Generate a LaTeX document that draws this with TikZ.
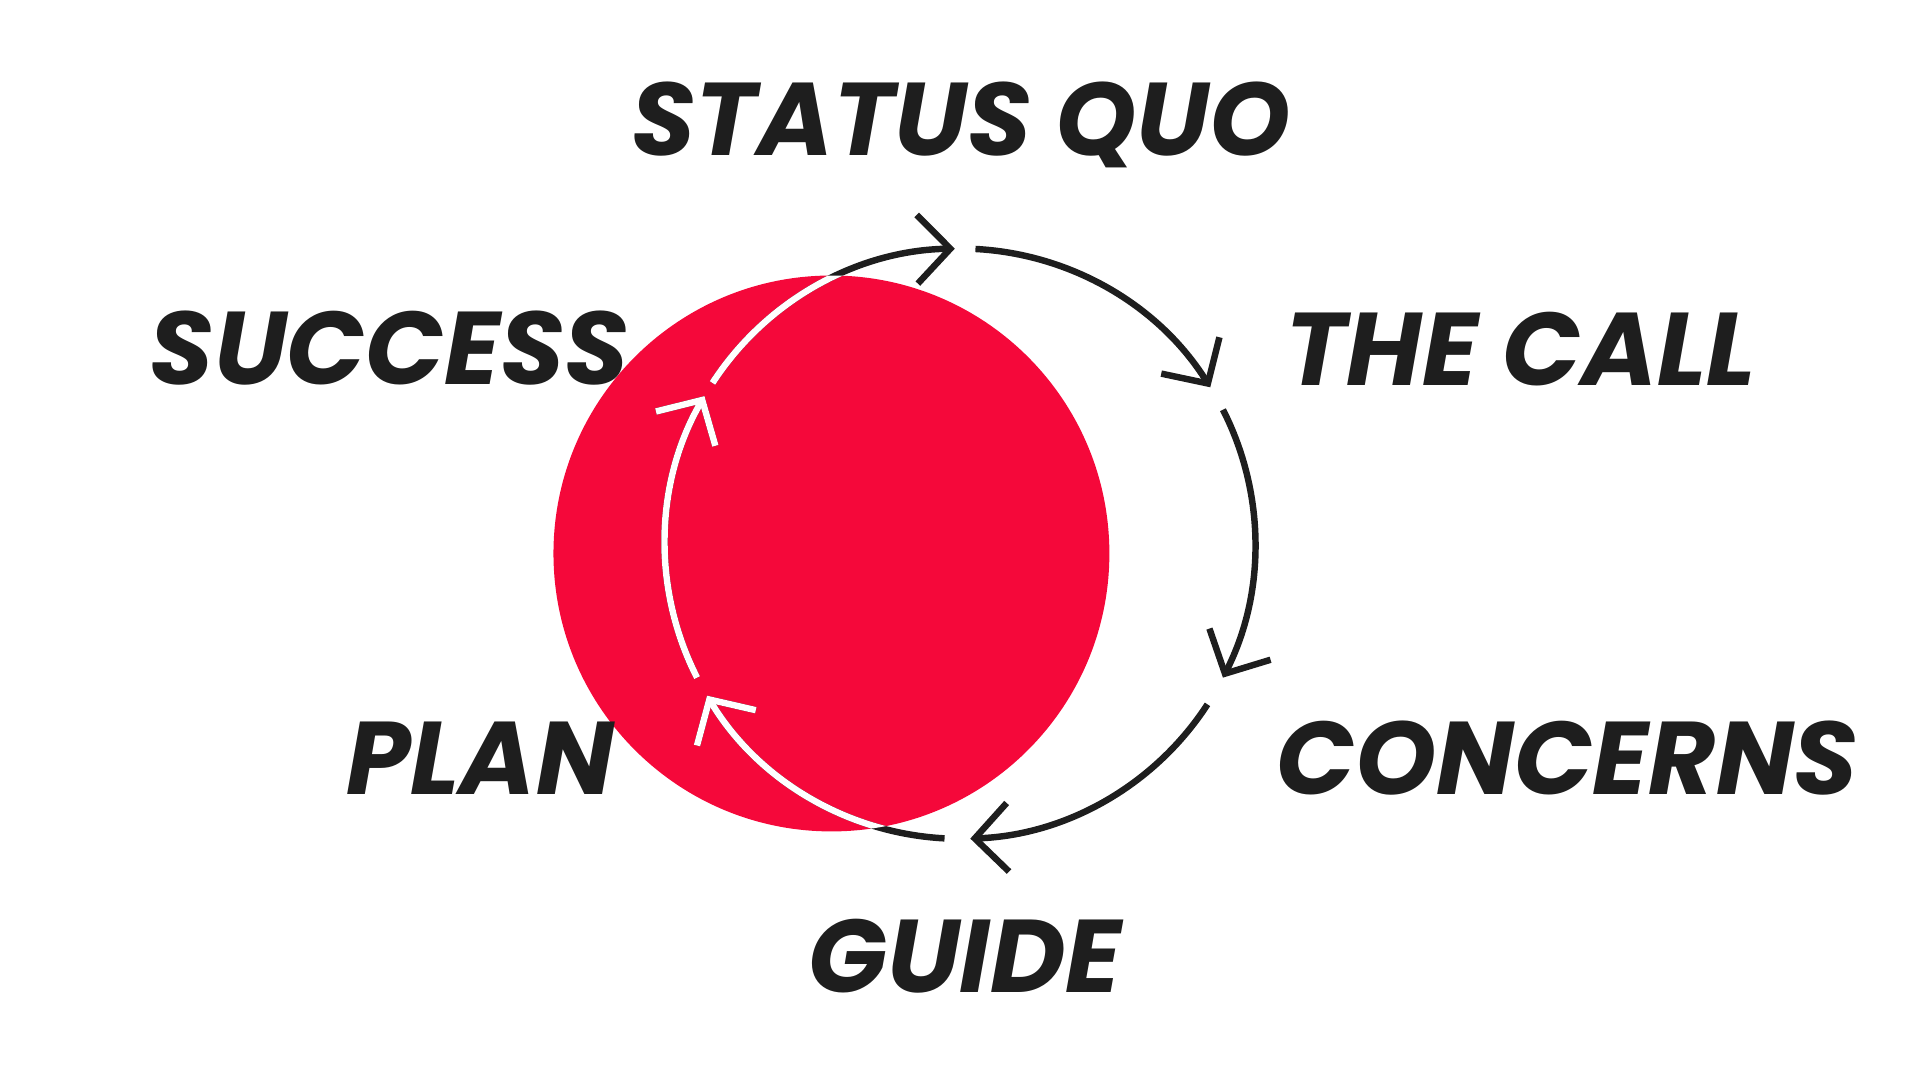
\documentclass[tikz,border=0pt]{standalone}
\usepackage{fontspec}
\setmainfont{Poppins}
\usetikzlibrary{arrows.meta}
\definecolor{herored}{HTML}{F5083A}
\definecolor{inkdark}{HTML}{1E1E1E}

\begin{document}
\begin{tikzpicture}[x=0.01cm, y=-0.01cm,
  stage/.style={font=\fontsize{24}{28}\selectfont\bfseries\itshape, text=inkdark},
  cyc/.style={line width=1.5pt, -{Straight Barb[length=0.27cm, width=0.56cm, line width=1.5pt]}}
]
\useasboundingbox (0,0) rectangle (1568,882);

% red circle
\fill[herored] (679,452) circle (227);

% labels
\node[stage] (quo) at (785,102) {STATUS QUO};
\node[stage] (success) at (318,284) {SUCCESS};
\node[stage] (call) at (1242,285) {THE CALL};
\node[stage] (plan) at (392,619) {PLAN};
\node[stage] (concerns) at (1280,619) {CONCERNS};
\node[stage] (guide) at (788,781) {GUIDE};

% cycle arcs, black outside and white inside the circle
\coordinate (hub) at (784,444);
\foreach \a/\b in {87/32, 27/-27, -33/-88, -93/-149, -153/-210, 147/91}
  \draw[cyc, inkdark] (hub) ++(-\a:241) arc[start angle=-\a, end angle=-\b, radius=241];
\begin{scope}
  \clip (679,452) circle (227);
  \foreach \a/\b in {87/32, 27/-27, -33/-88, -93/-149, -153/-210, 147/91}
    \draw[cyc, white] (hub) ++(-\a:241) arc[start angle=-\a, end angle=-\b, radius=241];
\end{scope}
\end{tikzpicture}
\end{document}
